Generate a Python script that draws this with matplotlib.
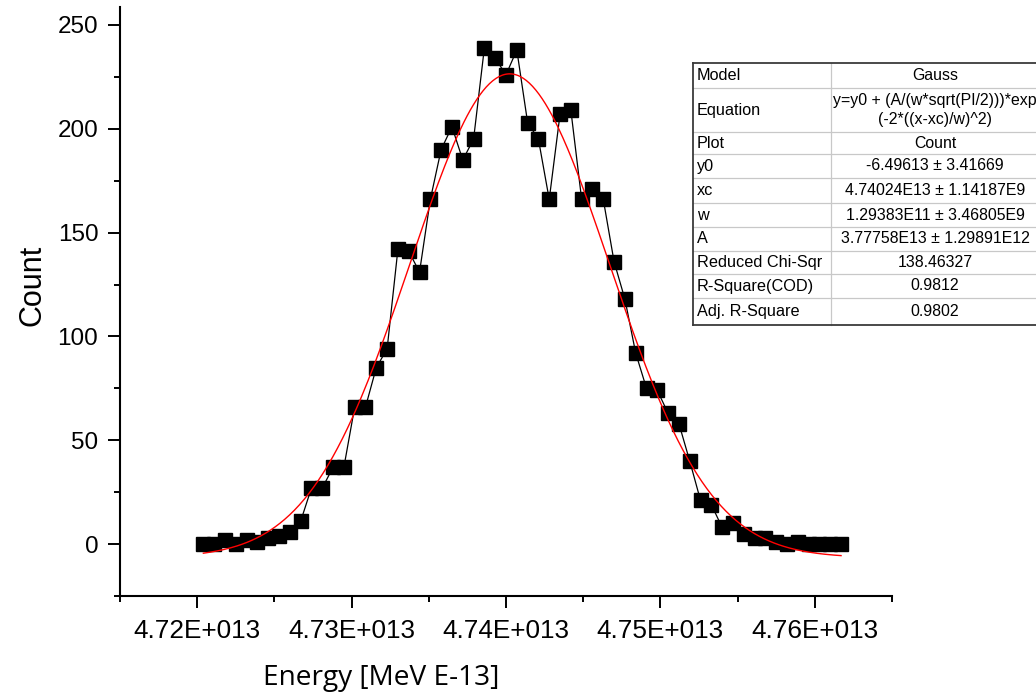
import numpy as np
import matplotlib
matplotlib.use("Agg")
import matplotlib.pyplot as plt
from matplotlib.ticker import MultipleLocator, FuncFormatter
from matplotlib.lines import Line2D

# ---------------- data ----------------
energy = [4.7204e13, 4.7211e13, 4.7218e13, 4.7225e13, 4.7232e13, 4.7239e13,
          4.7246e13, 4.7253e13, 4.7260e13, 4.7267e13, 4.7274e13, 4.7281e13,
          4.7288e13, 4.7295e13, 4.7302e13, 4.7309e13, 4.7316e13, 4.7323e13,
          4.7330e13, 4.7337e13, 4.7344e13, 4.7351e13, 4.7358e13, 4.7365e13,
          4.7372e13, 4.7379e13, 4.7386e13, 4.7393e13, 4.7400e13, 4.7407e13,
          4.7414e13, 4.7421e13, 4.7428e13, 4.7435e13, 4.7442e13, 4.7449e13,
          4.7456e13, 4.7463e13, 4.7470e13, 4.7477e13, 4.7484e13, 4.7491e13,
          4.7498e13, 4.7505e13, 4.7512e13, 4.7519e13, 4.7526e13, 4.7533e13,
          4.7540e13, 4.7547e13, 4.7554e13, 4.7561e13, 4.7568e13, 4.7575e13,
          4.7582e13, 4.7589e13, 4.7596e13, 4.7603e13, 4.7610e13, 4.7617e13]
count = [0, 0, 2, 0, 2, 1, 3, 4, 6, 11, 27, 27, 37, 37, 66, 66, 85, 94,
         142, 141, 131, 166, 190, 201, 185, 195, 239, 234, 226, 238, 203, 195,
         166, 207, 209, 166, 171, 166, 136, 118, 92, 75, 74, 63, 58, 40, 21, 19,
         8, 10, 5, 3, 3, 1, 0, 1, 0, 0, 0, 0]

# Gauss fit parameters (from the fit table)
y0 = -6.49613
xc = 4.74024e13
w = 1.29383e11
A = 3.77758e13

table_labels = ["Model", "Equation", "Plot", "y0", "xc", "w", "A",
                "Reduced Chi-Sqr", "R-Square(COD)", "Adj. R-Square"]
table_values = ["Gauss",
                "y=y0 + (A/(w*sqrt(PI/2)))*exp\n(-2*((x-xc)/w)^2)",
                "Count",
                "-6.49613 \u00b1 3.41669",
                "4.74024E13 \u00b1 1.14187E9",
                "1.29383E11 \u00b1 3.46805E9",
                "3.77758E13 \u00b1 1.29891E12",
                "138.46327",
                "0.9812",
                "0.9802"]

xticks = [4.72e13, 4.73e13, 4.74e13, 4.75e13, 4.76e13]
yticks = [0, 50, 100, 150, 200, 250]

# ---------------- figure ----------------
W, H = 1036, 695
fig = plt.figure(figsize=(W / 100, H / 100), dpi=100)
fig.patch.set_facecolor("white")

def fx(px):
    return px / W

def fy(py):
    return 1 - py / H

left, right, top, bottom = 120, 892, 6.7, 596
ax = fig.add_axes([fx(left), fy(bottom), fx(right) - fx(left), (bottom - top) / H])

ax.plot(energy, count, color="black", lw=0.9, zorder=2)
ax.plot(energy, count, linestyle="none", marker="s", markersize=9.4,
        markerfacecolor="black", markeredgecolor="black", zorder=3)

xf = np.linspace(energy[0], energy[-1], 400)
yf = y0 + (A / (w * np.sqrt(np.pi / 2))) * np.exp(-2 * ((xf - xc) / w) ** 2)
ax.plot(xf, yf, color="#ff0000", lw=1.0, zorder=4)

ax.set_xlim(4.715e13, 4.765e13)
ax.set_ylim(-25, 258.8)

for s in ["top", "right"]:
    ax.spines[s].set_visible(False)
for s in ["left", "bottom"]:
    ax.spines[s].set_linewidth(1.5)

ax.set_xticks(xticks)
ax.set_yticks(yticks)
ax.xaxis.set_minor_locator(MultipleLocator(0.005e13))
ax.yaxis.set_minor_locator(MultipleLocator(25))

def efmt(v, pos):
    e = int(np.floor(np.log10(abs(v))))
    m = v / 10 ** e
    return f"{m:.2f}E+{e:03d}"

ax.xaxis.set_major_formatter(FuncFormatter(efmt))

tickfont = "Liberation Sans"
ax.tick_params(which="major", length=8.6, width=1.4, direction="out",
               labelsize=17.5, colors="black")
ax.tick_params(axis="y", which="major", pad=7)
ax.tick_params(axis="x", which="major", pad=8, labelsize=18.8)
ax.tick_params(which="minor", length=4.3, width=1.4, direction="out")
for lab in ax.get_xticklabels() + ax.get_yticklabels():
    lab.set_fontfamily(tickfont)

fig.text(fx(381), fy(678), "Energy [MeV E-13]", family="Open Sans",
         fontsize=20.2, ha="center", va="center")
fig.text(fx(33), fy(285), "Count", family="Liberation Sans", fontsize=22,
         rotation=90, ha="center", va="center")

# ---------------- fit table ----------------
row_edges = [62.7, 88, 132, 154, 178, 203, 227, 251, 274, 298, 325]
tab_left, tab_div, tab_right = 693, 831, 1045
val_center = 935

for yb in row_edges[1:-1]:
    fig.add_artist(Line2D([fx(tab_left), fx(tab_right)], [fy(yb), fy(yb)],
                          color="#c8c8c8", lw=0.9))
fig.add_artist(Line2D([fx(tab_div), fx(tab_div)], [fy(row_edges[0]), fy(row_edges[-1])],
                      color="#c8c8c8", lw=0.9))
border = "#3a3a3a"
fig.add_artist(Line2D([fx(tab_left), fx(tab_right)], [fy(row_edges[0])] * 2, color=border, lw=1.3))
fig.add_artist(Line2D([fx(tab_left), fx(tab_right)], [fy(row_edges[-1])] * 2, color=border, lw=1.3))
fig.add_artist(Line2D([fx(tab_left)] * 2, [fy(row_edges[0]), fy(row_edges[-1])], color=border, lw=1.3))

for i, (lab, val) in enumerate(zip(table_labels, table_values)):
    yc = (row_edges[i] + row_edges[i + 1]) / 2
    fig.text(fx(697), fy(yc), lab, family="Liberation Sans", fontsize=11.7,
             ha="left", va="center", color="black")
    fig.text(fx(val_center), fy(yc), val, family="Liberation Sans", fontsize=11.4,
             ha="center", va="center", color="black", linespacing=1.3,
             multialignment="center")

fig.savefig("out.png", dpi=100, facecolor="white")
